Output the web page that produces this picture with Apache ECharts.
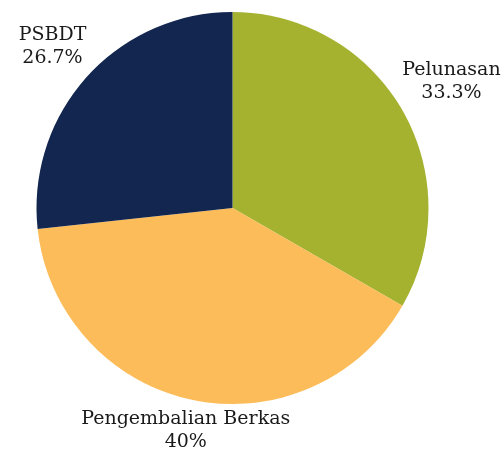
<!DOCTYPE html>
<html>
<head>
    <meta charset="utf-8">
    <title>pie</title>
    <style>
        html, body { margin: 0; padding: 0; background: #fff; }
        #main { width: 504px; height: 453px; }
    </style>
</head>
<body>
<div id="main"></div>
<script src="https://cdn.jsdelivr.net/npm/echarts@6/dist/echarts.min.js"></script>
<script>
    var categories = ['Pelunasan', 'Pengembalian Berkas', 'PSBDT'];
    var values = [33.3, 40, 26.7];
    var colors = ['#a5b22f', '#fdbc5a', '#13264f'];

    // label distance from pie centre, per slice
    var labelDist = [253, 227, 242];
    var cx = 232.5, cy = 208, radius = 196;

    var total = values.reduce(function (a, b) { return a + b; }, 0);

    function midAngle(i) {
        var acc = 0;
        for (var k = 0; k < i; k++) acc += values[k];
        return (acc + values[i] / 2) / total * Math.PI * 2;
    }

    var myChart = echarts.init(document.getElementById('main'), null, {renderer: 'canvas'});
    myChart.setOption({
        animation: false,
        color: colors,
        series: [{
            type: 'pie',
            center: [cx, cy],
            radius: radius,
            startAngle: 90,
            clockwise: true,
            avoidLabelOverlap: false,
            itemStyle: {borderWidth: 0},
            label: {
                show: true,
                position: 'outside',
                formatter: function (p) { return p.name + '\n' + p.value + '%'; },
                fontFamily: 'DejaVu Serif',
                fontSize: 19,
                lineHeight: 23,
                color: '#1a1a1a'
            },
            labelLine: {show: false},
            labelLayout: function (params) {
                var a = midAngle(params.dataIndex);
                var d = labelDist[params.dataIndex];
                return {
                    x: cx + Math.sin(a) * d,
                    y: cy - Math.cos(a) * d,
                    align: 'center',
                    verticalAlign: 'middle'
                };
            },
            data: categories.map(function (c, i) {
                return {name: c, value: values[i]};
            })
        }]
    });
</script>
</body>
</html>
